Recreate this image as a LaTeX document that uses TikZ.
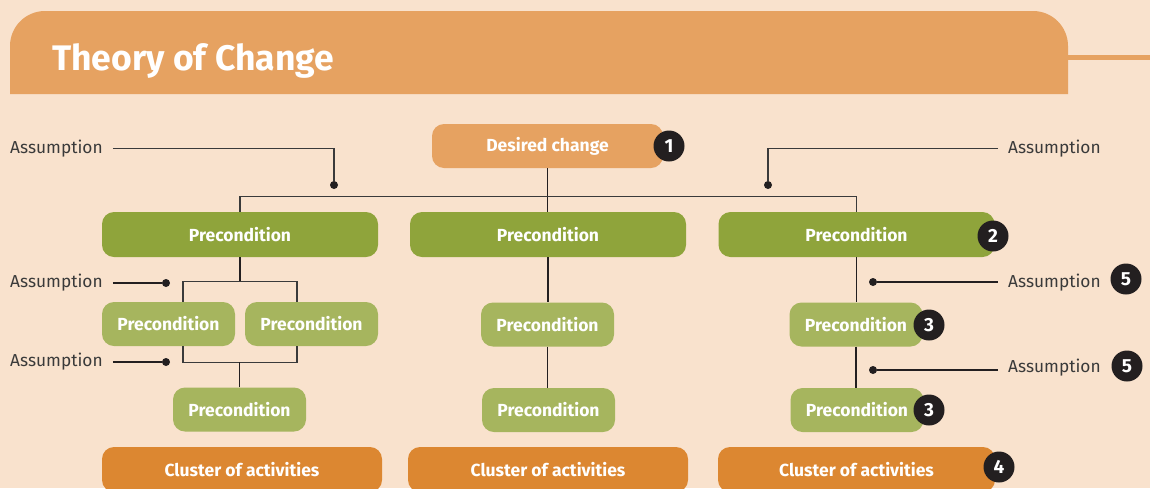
\documentclass[tikz,border=0pt]{standalone}
\usepackage{fontspec}
\setmainfont{Fira Sans}
\usetikzlibrary{positioning}
\definecolor{bgpeach}{HTML}{F9E2CD}
\definecolor{headorange}{HTML}{E6A261}
\definecolor{darkgreen}{HTML}{8FA43B}
\definecolor{lightgreen}{HTML}{A6B55E}
\definecolor{clusterorange}{HTML}{DC8731}
\definecolor{linegrey}{HTML}{3A3A3A}
\definecolor{badgeblack}{HTML}{231F20}
\newcommand*{\badge}[3]{%
  \node [badge] (#1) at (#2) {#3};
}

\begin{document}
\begin{tikzpicture}[x=1pt, y=-1pt,
    box/.style     = {rounded corners=12pt, text=white, inner sep=0pt, minimum height=45pt,
                      font=\fontsize{17.5}{20}\selectfont\bfseries},
    desired/.style = {box, fill=headorange, minimum width=231pt, minimum height=44pt},
    pre/.style     = {box, fill=darkgreen, minimum width=276pt},
    subpre/.style  = {box, fill=lightgreen, minimum width=133pt, minimum height=44pt},
    cluster/.style = {box, fill=clusterorange, minimum width=280pt},
    badge/.style   = {circle, fill=badgeblack, text=white, minimum size=31pt, inner sep=0pt,
                      font=\fontsize{19}{21}\selectfont\bfseries},
    assume/.style  = {text=linegrey, inner xsep=10pt, inner ysep=2pt, font=\fontsize{17.3}{19}\selectfont},
    dot/.style     = {circle, fill=badgeblack, minimum size=8pt, inner sep=0pt},
    link/.style    = {draw=linegrey, line width=1.3pt},
    stem/.style    = {draw=badgeblack, line width=1.8pt}]

  \useasboundingbox (0,0) rectangle (1150,488);
  \fill[bgpeach] (0,0) rectangle (1150,488);

  % header band
  \fill[headorange] (10,94) -- (10,46) arc[start angle=180, end angle=270, radius=35]
    -- (1033,11) arc[start angle=270, end angle=360, radius=35] -- (1068,94) -- cycle;
  \draw[headorange, line width=5pt] (1068,57) -- (1150,57);
  \node[anchor=base west, text=white, inner sep=0pt, font=\fontsize{35.5}{40}\selectfont\bfseries]
    (title) at (52,70) {Theory of Change};

  % boxes
  \node[desired] (dc) at (547.5,146) {Desired change};

  \node[pre] (pc_l) at (240,234.5) {Precondition};
  \node[pre] (pc_m) at (548,234.5) {Precondition};
  \node[pre] (pc_r) at (856.5,234.5) {Precondition};

  \node[subpre] (pl_a) at (168.5,324) {Precondition};
  \node[subpre] (pl_b) at (311.5,324) {Precondition};
  \node[subpre] (pl_c) at (239.5,409.5) {Precondition};

  \node[subpre] (pm_a) at (547.5,324.5) {Precondition};
  \node[subpre] (pm_b) at (548.5,410) {Precondition};

  \node[subpre] (pr_a) at (856,324.5) {Precondition};
  \node[subpre] (pr_b) at (857,410) {Precondition};

  \node[cluster] (ca_l) at (242,469.5) {Cluster of activities};
  \node[cluster] (ca_m) at (548,469.5) {Cluster of activities};
  \node[cluster, minimum width=277pt] (ca_r) at (856.5,469.5) {Cluster of activities};

  % connectors
  \draw[stem] (dc.south) -- (dc.south |- pc_m.north);
  \draw[link] (pc_l.north) -- ++(0,-15) -| (pc_r.north);

  \draw[stem] (pc_l.south) -- ++(0,25);
  \draw[link] ([xshift=14.5pt]pl_a.north) -- ++(0,-20) -| ([xshift=-14.5pt]pl_b.north);
  \draw[link] ([xshift=14.5pt]pl_a.south) -- ++(0,16) -| ([xshift=-14.5pt]pl_b.south);
  \draw[stem] (pl_c.north) -- ++(0,-25);

  \draw[stem] (pc_m.south) -- (pc_m.south |- pm_a.north);
  \draw[stem] (pm_a.south) -- (pm_a.south |- pm_b.north);

  \draw[stem] (pc_r.south) -- (pc_r.south |- pr_a.north);
  \draw[stem] (pr_a.south) -- (pr_a.south |- pr_b.north);

  % assumptions
  \node[assume, anchor=west] (as_tl) at (0,148.5) {Assumption};
  \node[dot] (d_tl) at (334,185) {};
  \draw[link] (as_tl) -| (d_tl);

  \node[assume, anchor=west] (as_tr) at (998,148.5) {Assumption};
  \node[dot] (d_tr) at (768,185) {};
  \draw[link] (as_tr) -| (d_tr);

  \node[assume, anchor=west] (as_l1) at (0,283) {Assumption};
  \node[dot] (d_l1) at (166,283) {};
  \draw[stem] (as_l1) -- (d_l1);

  \node[assume, anchor=west] (as_l2) at (0,362) {Assumption};
  \node[dot] (d_l2) at (166,362) {};
  \draw[stem] (as_l2) -- (d_l2);

  \node[assume, anchor=west] (as_r1) at (998,282.5) {Assumption};
  \node[dot] (d_r1) at (873,282) {};
  \draw[stem] (d_r1) -- (d_r1 -| as_r1.west);

  \node[assume, anchor=west] (as_r2) at (998,367.5) {Assumption};
  \node[dot] (d_r2) at (873,370) {};
  \draw[stem] (d_r2) -- (d_r2 -| as_r2.west);

  % numbers
  \badge{b_one}{669,146}{1}
  \badge{b_two}{993,236}{2}
  \badge{b_three_a}{929,325}{3}
  \badge{b_three_b}{929,410}{3}
  \badge{b_four}{999,467}{4}
  \badge{b_five_a}{1126,279}{5}
  \badge{b_five_b}{1127,366}{5}
\end{tikzpicture}
\end{document}
